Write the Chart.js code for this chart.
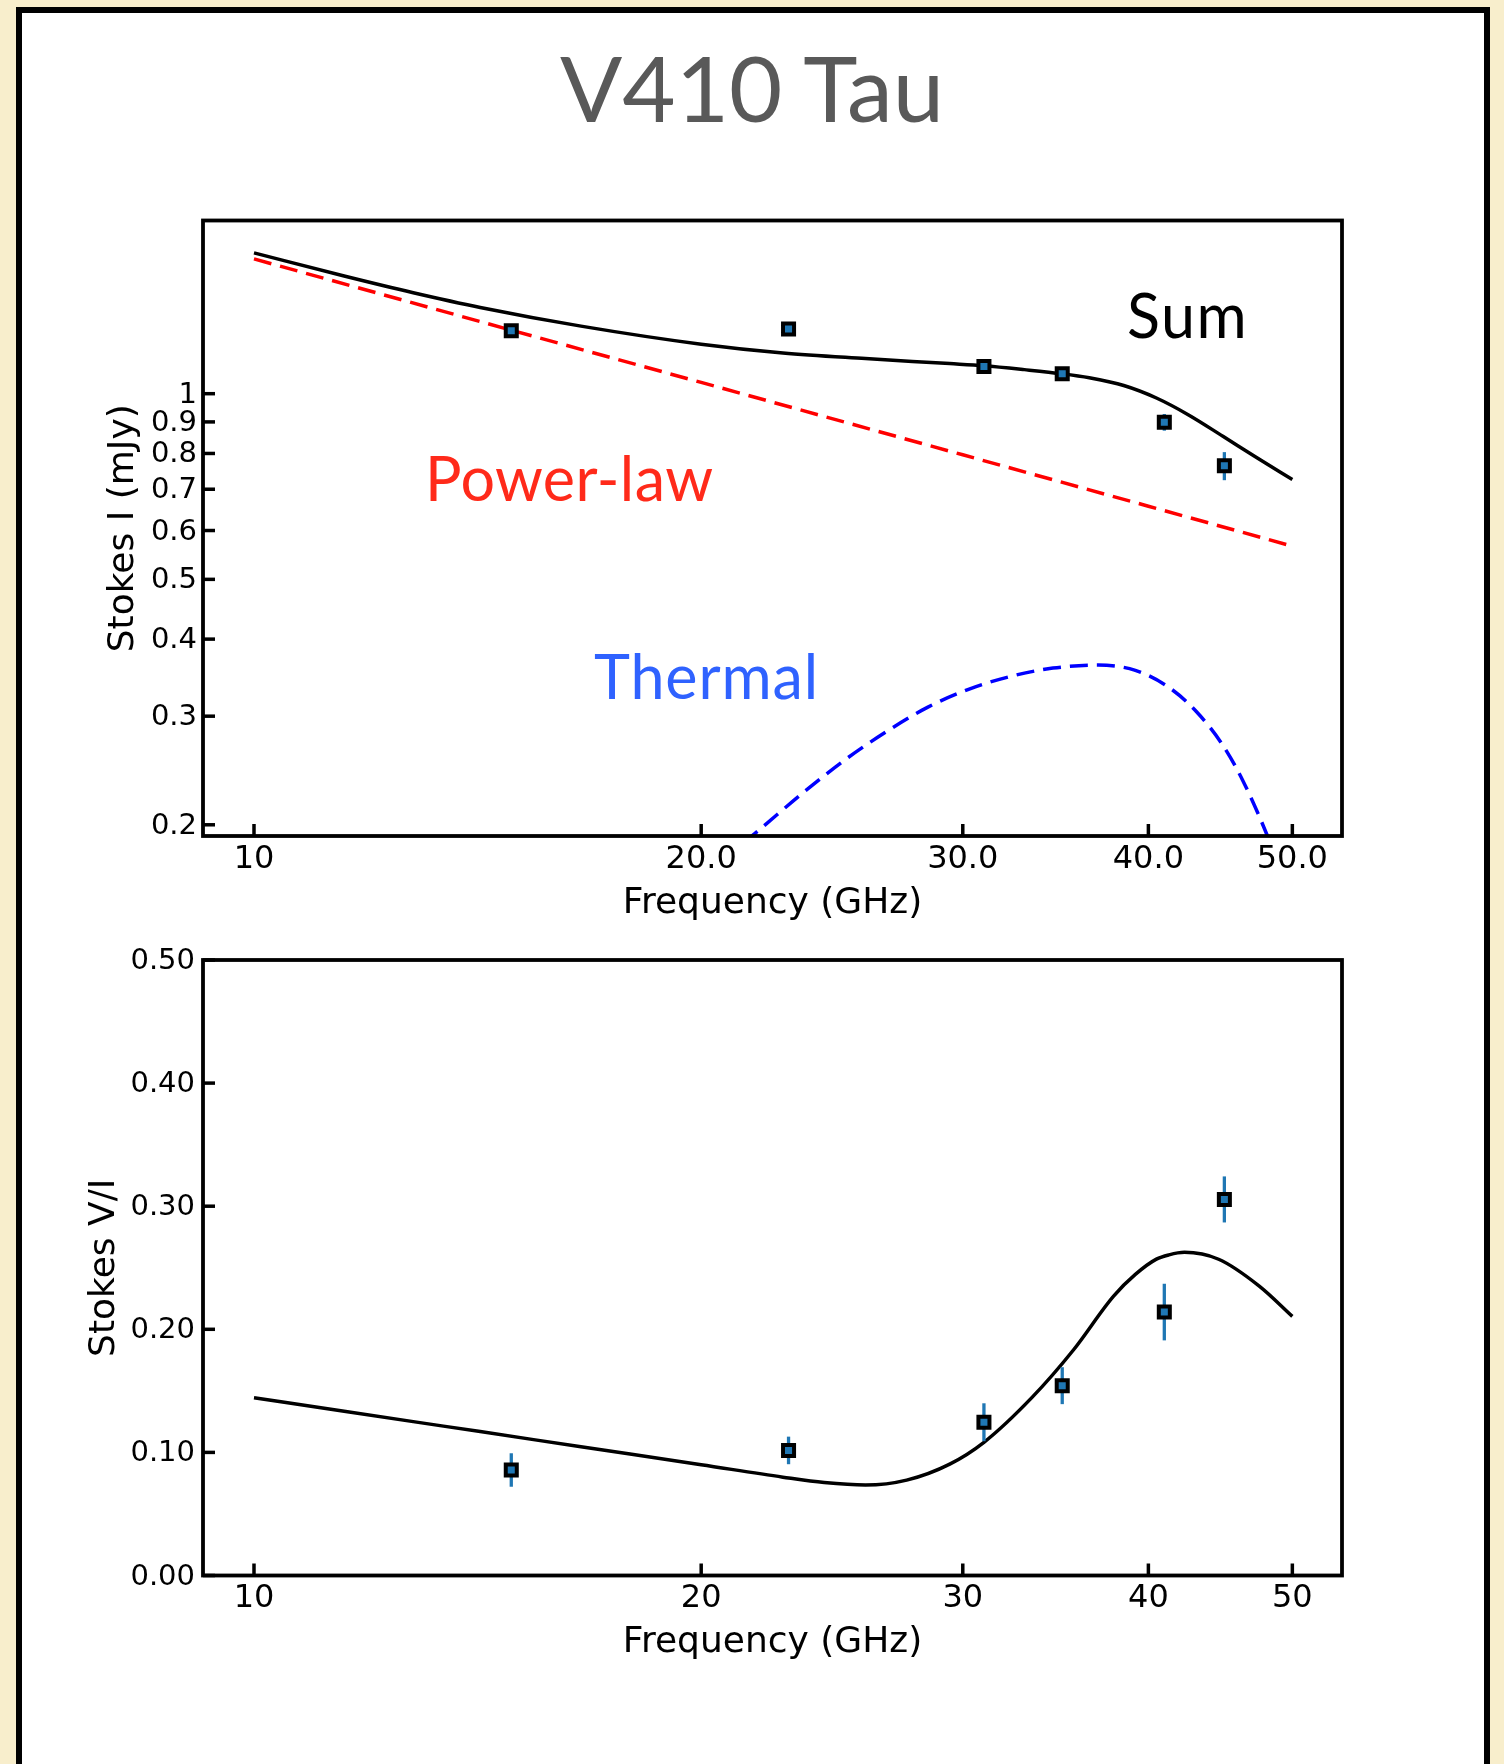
<!DOCTYPE html>
<html>
<head>
<meta charset="utf-8">
<script src="https://cdn.jsdelivr.net/npm/chart.js@4.4.1/dist/chart.umd.min.js"></script>
<style>
html,body{margin:0;padding:0;width:1504px;height:1764px;overflow:hidden;background:#f8eecc;}
#panel{position:absolute;left:16px;top:7px;width:1462px;height:1800px;border:6px solid #000;background:#fff;}
#title{position:absolute;left:0;top:41px;width:1504px;text-align:center;font-family:Lato,"Open Sans",sans-serif;font-size:92px;line-height:92px;color:#595959;white-space:nowrap;}
canvas{position:absolute;left:0;}
#c1{top:0;}
#c2{top:880px;}
</style>
</head>
<body>
<div id="panel"></div>
<div id="title">V410 Tau</div>
<canvas id="c1" width="1504" height="1000"></canvas>
<canvas id="c2" width="1504" height="884"></canvas>
<script>
// ---------- data ----------
const freqs = [14.9, 22.9, 31.0, 35.0, 41.0, 45.0];
const stokesI = [1.265, 1.273, 1.107, 1.077, 0.899, 0.764];
const stokesIErr = [0.02, 0.02, 0.015, 0.015, 0.028, 0.04];
const stokesVI = [0.0857, 0.1016, 0.1245, 0.1542, 0.2140, 0.3055];
const stokesVIErr = [0.0136, 0.0112, 0.0154, 0.015, 0.023, 0.0187];

const sumFreq = [10.0, 11.5, 12.8, 14.2, 16.6, 20.0, 22.7, 25.8, 29.4, 31.0, 33.0, 35.0, 36.5, 38.5, 40.5, 42.6, 44.9, 47.3, 50.0];
const sumI = [1.692, 1.552, 1.458, 1.380, 1.287, 1.203, 1.164, 1.140, 1.119, 1.110, 1.094, 1.077, 1.061, 1.031, 0.984, 0.923, 0.853, 0.788, 0.726];

const powerFreq = [10, 15, 20, 30, 40, 50];
const powerI = [1.654, 1.262, 1.043, 0.796, 0.657, 0.566];

const thermalFreq = [20.0, 21.7, 23.4, 25.0, 26.7, 28.4, 30.3, 32.3, 34.5, 37.0, 39.2, 41.3, 43.1, 44.9, 46.3, 48.1, 50.0];
const thermalI = [0.165, 0.193, 0.225, 0.255, 0.284, 0.310, 0.332, 0.348, 0.359, 0.363, 0.356, 0.334, 0.305, 0.269, 0.236, 0.192, 0.150];

const modelFreq = [10.0, 11.5, 12.8, 14.2, 16.6, 20.0, 22.7, 24.2, 25.8, 27.5, 29.4, 31.0, 33.4, 35.6, 37.9, 39.2, 40.5, 41.3, 42.3, 44.6, 47.5, 50.0];
const modelVI = [0.1444, 0.1334, 0.1250, 0.1169, 0.1046, 0.0900, 0.0799, 0.0755, 0.0735, 0.0775, 0.0905, 0.1082, 0.1447, 0.1830, 0.2270, 0.2446, 0.2570, 0.2605, 0.2625, 0.2569, 0.2351, 0.2105];

const xTickValues = [10, 20, 30, 40, 50];
const xTickLabelsTop = ["10", "20.0", "30.0", "40.0", "50.0"];
const xTickLabelsBottom = ["10", "20", "30", "40", "50"];
const yTickValuesTop = [0.2, 0.3, 0.4, 0.5, 0.6, 0.7, 0.8, 0.9, 1];
const yTickLabelsTop = ["0.2", "0.3", "0.4", "0.5", "0.6", "0.7", "0.8", "0.9", "1"];
const yTickValuesBottom = [0.0, 0.1, 0.2, 0.3, 0.4, 0.5];
const yTickLabelsBottom = ["0.00", "0.10", "0.20", "0.30", "0.40", "0.50"];

// ---------- helpers ----------
const pts = (xs, ys) => xs.map((x, i) => ({x: x, y: ys[i]}));
const TICKFONT = 'DejaVu Sans';

function framePlugin() {
  return {
    id: 'frame',
    afterDraw(chart) {
      const {ctx, chartArea: a, scales} = chart;
      ctx.save();
      ctx.strokeStyle = '#000';
      ctx.lineCap = 'butt';
      ctx.lineWidth = 3.5;
      scales.x.ticks.forEach(t => {
        const px = scales.x.getPixelForValue(t.value);
        ctx.beginPath(); ctx.moveTo(px, a.bottom); ctx.lineTo(px, a.bottom - 12); ctx.stroke();
      });
      scales.y.ticks.forEach(t => {
        const py = scales.y.getPixelForValue(t.value);
        ctx.beginPath(); ctx.moveTo(a.left, py); ctx.lineTo(a.left + 12, py); ctx.stroke();
      });
      ctx.lineWidth = 3.8;
      ctx.strokeRect(a.left, a.top, a.right - a.left, a.bottom - a.top);
      ctx.restore();
    }
  };
}

function errorBarPlugin(xs, ys, errs) {
  return {
    id: 'errorBars',
    beforeDatasetDraw(chart, args) {
      if (args.index !== 0) return;
      const {ctx, scales: {x, y}} = chart;
      ctx.save();
      ctx.strokeStyle = '#1f77b4';
      ctx.lineWidth = 3.3;
      xs.forEach((f, i) => {
        const px = x.getPixelForValue(f);
        ctx.beginPath();
        ctx.moveTo(px, y.getPixelForValue(ys[i] - errs[i]));
        ctx.lineTo(px, y.getPixelForValue(ys[i] + errs[i]));
        ctx.stroke();
      });
      ctx.restore();
    }
  };
}

function labelPlugin(items) {
  return {
    id: 'labels',
    afterDatasetsDraw(chart) {
      const {ctx, chartArea: a} = chart;
      ctx.save();
      ctx.textAlign = 'left';
      ctx.textBaseline = 'alphabetic';
      items.forEach(it => {
        try { ctx.letterSpacing = it.spacing; } catch (e) {}
        ctx.fillStyle = it.color;
        ctx.font = it.font;
        ctx.fillText(it.text, a.left + it.dx, a.top + it.dy);
      });
      ctx.restore();
    }
  };
}

const pointDataset = (data) => ({
  data: data, showLine: false, pointStyle: 'rect', pointRadius: 7.8, pointHoverRadius: 7.8,
  pointBackgroundColor: '#1f77b4', pointBorderColor: '#000', pointBorderWidth: 4, pointHoverBorderWidth: 4
});

const curve = (data, color, dash) => ({
  data: data, borderColor: color, borderWidth: 3.5, borderDash: dash || [], pointRadius: 0,
  cubicInterpolationMode: 'monotone', fill: false
});

function axes(opts) {
  return {
    x: {
      type: 'logarithmic', min: 9.24, max: 54.0, bounds: 'data',
      afterBuildTicks: s => { s.ticks = xTickValues.map(v => ({value: v})); },
      afterFit: s => { s.height = 100; },
      grid: {display: false, drawTicks: false}, border: {display: false},
      ticks: {autoSkip: false, maxRotation: 0, minRotation: 0, padding: 4, color: '#000',
        font: {family: TICKFONT, size: 32}, callback: (v, i) => opts.xLabels[i]},
      title: {display: true, text: 'Frequency (GHz)', color: '#000',
        font: {family: TICKFONT, size: 36}, padding: {top: 0, bottom: opts.xTitlePad}}
    },
    y: {
      type: opts.yType, min: opts.yMin, max: opts.yMax, bounds: 'data',
      afterBuildTicks: s => { s.ticks = opts.yTicks.map(v => ({value: v})); },
      afterFit: s => { s.width = 143; },
      grid: {display: false, drawTicks: false}, border: {display: false},
      ticks: {autoSkip: false, padding: opts.yTickPad, labelOffset: 1.5, color: '#000',
        font: {family: TICKFONT, size: 29}, callback: (v, i) => opts.yLabels[i]},
      title: {display: true, text: opts.yTitle, color: '#000',
        font: {family: TICKFONT, size: 36}, padding: {top: opts.yTitlePad, bottom: 0}}
    }
  };
}

const common = {
  responsive: false, animation: false, events: [], devicePixelRatio: 1,
  plugins: {legend: {display: false}, tooltip: {enabled: false}}
};

// ---------- top chart ----------
new Chart(document.getElementById('c1'), {
  type: 'line',
  data: {
    datasets: [
      pointDataset(pts(freqs, stokesI)),
      curve(pts(sumFreq, sumI), '#000'),
      Object.assign(curve(pts(powerFreq, powerI), '#ff0000', [18, 9]), {cubicInterpolationMode: 'default', tension: 0}),
      curve(pts(thermalFreq, thermalI), '#0000ff', [18, 9])
    ]
  },
  options: Object.assign({}, common, {
    layout: {padding: {left: 60, right: 162, top: 220.5, bottom: 64}},
    scales: axes({xLabels: xTickLabelsTop, xTitlePad: 10.5, yType: 'logarithmic', yMin: 0.1918, yMax: 1.909,
      yTicks: yTickValuesTop, yLabels: yTickLabelsTop, yTickPad: 6, yTitle: 'Stokes I (mJy)', yTitlePad: 42})
  }),
  plugins: [framePlugin(), errorBarPlugin(freqs, stokesI, stokesIErr), labelPlugin([
    {text: 'Sum', color: '#000', font: '61px Lato', spacing: '1.5px', dx: 924, dy: 117},
    {text: 'Power-law', color: '#ff2a1a', font: '61px Lato', spacing: '0.4px', dx: 222, dy: 280},
    {text: 'Thermal', color: '#2f62ff', font: '61px Lato', spacing: '0.9px', dx: 391, dy: 478}
  ])]
});

// ---------- bottom chart ----------
new Chart(document.getElementById('c2'), {
  type: 'line',
  data: {
    datasets: [
      pointDataset(pts(freqs, stokesVI)),
      curve(pts(modelFreq, modelVI), '#000')
    ]
  },
  options: Object.assign({}, common, {
    layout: {padding: {left: 60, right: 162, top: 80, bottom: 88.5}},
    scales: axes({xLabels: xTickLabelsBottom, xTitlePad: 11.5, yType: 'linear', yMin: 0, yMax: 0.5,
      yTicks: yTickValuesBottom, yLabels: yTickLabelsBottom, yTickPad: 8, yTitle: 'Stokes V/I', yTitlePad: 23.5})
  }),
  plugins: [framePlugin(), errorBarPlugin(freqs, stokesVI, stokesVIErr)]
});
</script>
</body>
</html>
